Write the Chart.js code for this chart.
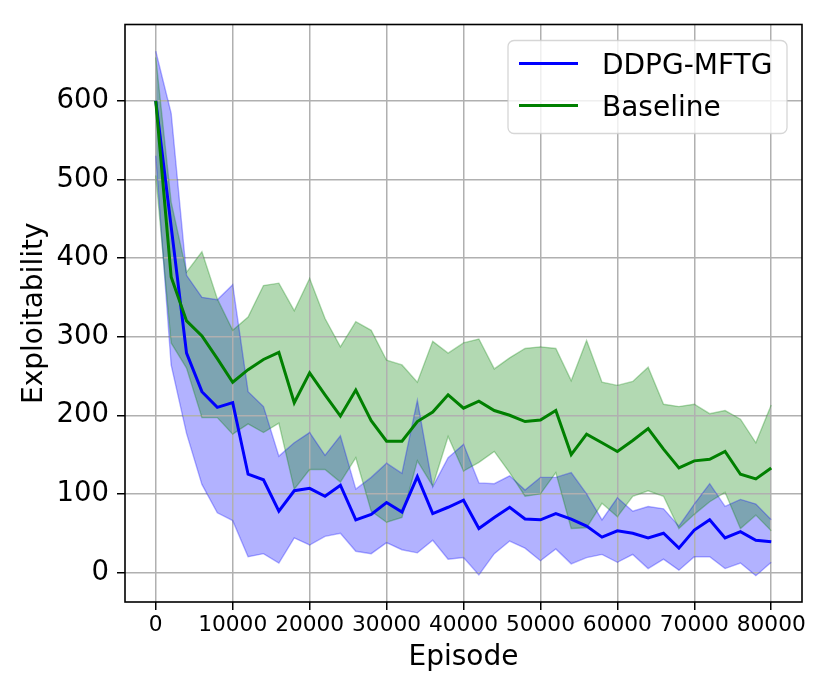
<!DOCTYPE html>
<html>
<head>
<meta charset="utf-8">
<script src="https://cdn.jsdelivr.net/npm/chart.js@4.4.1/dist/chart.umd.min.js"></script>
<style>
    html, body { margin: 0; padding: 0; background: #fff; }
    #grafico { display: block; }
</style>
</head>
<body>
<canvas id="grafico" width="830" height="692"></canvas>
<script>
// --- DATOS ---
const episodios = [0, 2000, 4000, 6000, 8000, 10000, 12000, 14000, 16000, 18000, 20000,
    22000, 24000, 26000, 28000, 30000, 32000, 34000, 36000, 38000, 40000,
    42000, 44000, 46000, 48000, 50000, 52000, 54000, 56000, 58000, 60000,
    62000, 64000, 66000, 68000, 70000, 72000, 74000, 76000, 78000, 80000];

const ddpgMedia = [600, 440, 279, 230, 210, 216, 125, 118, 78, 104, 107, 97, 111, 67, 74, 89, 77, 122, 75, 83, 92,
    56, 70, 83, 68, 67, 75, 68, 59, 45, 53, 50, 44, 50, 31, 54, 67, 44, 52, 41, 39];
const ddpgSup = [663, 584, 378, 350, 347, 366, 230, 211, 148, 165, 178, 149, 174, 106, 121, 139, 126, 219, 109, 146, 163,
    114, 113, 123, 105, 121, 121, 127, 100, 67, 95, 78, 84, 81, 59, 87, 113, 84, 93, 87, 67];
const ddpgInf = [530, 264, 177, 112, 76, 66, 20, 24, 12, 44, 35, 46, 50, 27, 24, 38, 29, 25, 41, 17, 19,
    -3, 24, 40, 31, 15, 30, 11, 19, 23, 13, 23, 5, 17, 3, 20, 20, 5, 12, -4, 13];

const baseMedia = [600, 376, 320, 301, 272, 242, 258, 271, 280, 216, 254, 226, 199, 232, 193, 167, 167, 192, 204, 226, 209,
    218, 206, 200, 192, 194, 206, 150, 176, 165, 154, 168, 183, 157, 133, 142, 144, 154, 125, 119, 133];
const baseSup = [655, 471, 382, 408, 348, 308, 325, 365, 368, 333, 374, 323, 287, 319, 308, 270, 264, 242, 294, 279, 292,
    297, 259, 273, 285, 287, 285, 244, 295, 242, 238, 243, 261, 214, 211, 214, 202, 206, 195, 165, 213];
const baseInf = [505, 292, 260, 197, 197, 176, 189, 178, 190, 106, 131, 131, 115, 146, 78, 64, 70, 142, 110, 173, 129,
    140, 154, 127, 97, 100, 127, 56, 57, 88, 71, 97, 104, 97, 56, 74, 90, 102, 56, 73, 53];

const ticksX = [0, 10000, 20000, 30000, 40000, 50000, 60000, 70000, 80000];
const ticksY = [0, 100, 200, 300, 400, 500, 600];
const etiquetas = ['DDPG-MFTG', 'Baseline'];

const FUENTE = 'DejaVu Sans';
const puntos = serie => serie.map((v, i) => ({ x: episodios[i], y: v }));

// --- PLUGINS ---
// marco negro completo alrededor del área del gráfico
const marco = {
    id: 'marco',
    afterDatasetsDraw(chart) {
        const { ctx, chartArea: a } = chart;
        ctx.save();
        ctx.strokeStyle = '#000';
        ctx.lineWidth = 1.6;
        ctx.strokeRect(a.left, a.top, a.right - a.left, a.bottom - a.top);
        ctx.restore();
    }
};

// leyenda estilo matplotlib, arriba a la derecha
const leyenda = {
    id: 'leyenda',
    afterDraw(chart) {
        const { ctx, chartArea: a } = chart;
        const x0 = a.right - 294, y0 = a.top + 16, w = 279, h = 93;
        ctx.save();
        ctx.beginPath();
        ctx.roundRect(x0, y0, w, h, 6);
        ctx.fillStyle = 'rgba(255,255,255,0.8)';
        ctx.fill();
        ctx.strokeStyle = 'rgba(204,204,204,0.8)';
        ctx.lineWidth = 1.3;
        ctx.stroke();

        const entradas = chart.data.datasets.filter(d => etiquetas.includes(d.label));
        entradas.sort((p, q) => etiquetas.indexOf(p.label) - etiquetas.indexOf(q.label));
        entradas.forEach((d, i) => {
            const yc = y0 + 23 + i * 42;
            ctx.beginPath();
            ctx.moveTo(x0 + 11, yc);
            ctx.lineTo(x0 + 70, yc);
            ctx.strokeStyle = d.borderColor;
            ctx.lineWidth = 3;
            ctx.stroke();
            ctx.fillStyle = '#000';
            ctx.font = `28px "${FUENTE}"`;
            ctx.textBaseline = 'alphabetic';
            ctx.textAlign = 'left';
            ctx.fillText(d.label, x0 + 94, yc + 10.3);
        });
        ctx.restore();
    }
};

// --- GRÁFICO ---
const linea = (label, datos, color, ancho, extra) => Object.assign({
    label,
    data: puntos(datos),
    borderColor: color,
    borderWidth: ancho,
    pointRadius: 0,
    tension: 0,
    fill: false
}, extra || {});

new Chart(document.getElementById('grafico'), {
    type: 'line',
    data: {
        datasets: [
            linea('Baseline', baseMedia, '#008000', 3),
            linea('DDPG-MFTG', ddpgMedia, '#0000ff', 3),
            linea('base-sup', baseSup, 'rgba(0,128,0,0.3)', 1.4, { fill: '+1', backgroundColor: 'rgba(0,128,0,0.3)' }),
            linea('base-inf', baseInf, 'rgba(0,128,0,0.3)', 1.4),
            linea('ddpg-sup', ddpgSup, 'rgba(0,0,255,0.3)', 1.4, { fill: '+1', backgroundColor: 'rgba(0,0,255,0.3)' }),
            linea('ddpg-inf', ddpgInf, 'rgba(0,0,255,0.3)', 1.4)
        ]
    },
    options: {
        responsive: false,
        animation: false,
        devicePixelRatio: 1,
        layout: { padding: { left: 0, top: 19, right: 28, bottom: 0 } },
        plugins: {
            legend: { display: false },
            tooltip: { enabled: false },
            filler: { drawTime: 'beforeDraw' }
        },
        scales: {
            x: {
                type: 'linear',
                min: -4000,
                max: 84000,
                afterBuildTicks: s => { s.ticks = ticksX.map(v => ({ value: v })); },
                afterFit: s => { s.height = 90; },
                border: { display: false },
                grid: { color: '#b0b0b0', lineWidth: 1.5, tickColor: '#000', tickLength: 8, tickWidth: 1.5 },
                ticks: {
                    color: '#000',
                    padding: 2,
                    maxRotation: 0,
                    autoSkip: false,
                    font: { family: FUENTE, size: 21.7 },
                    callback: v => String(v)
                },
                title: {
                    display: true,
                    text: 'Episode',
                    color: '#000',
                    font: { family: FUENTE, size: 28 },
                    padding: { top: 0, bottom: 17 }
                }
            },
            y: {
                type: 'linear',
                min: -37.5,
                max: 697,
                afterBuildTicks: s => { s.ticks = ticksY.map(v => ({ value: v })); },
                afterFit: s => { s.width = 125; },
                border: { display: false },
                grid: { color: '#b0b0b0', lineWidth: 1.5, tickColor: '#000', tickLength: 8, tickWidth: 1.5 },
                ticks: {
                    color: '#000',
                    padding: 8,
                    font: { family: FUENTE, size: 27.5 },
                    callback: v => String(v)
                },
                title: {
                    display: true,
                    text: 'Exploitability',
                    color: '#000',
                    font: { family: FUENTE, size: 28 },
                    padding: { top: 18, bottom: 0 }
                }
            }
        }
    },
    plugins: [marco, leyenda]
});
</script>
</body>
</html>
